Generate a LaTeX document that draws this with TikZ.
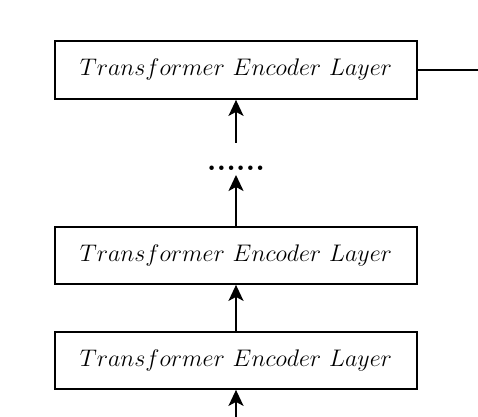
\documentclass[tikz,border=0pt]{standalone}
\usepackage{amsmath,amssymb}
\usepackage{tikz}
\usetikzlibrary{arrows.meta}

\begin{document}
\begin{tikzpicture}[x=1pt,y=1pt,>={Stealth[length=8pt,width=7.5pt,inset=2pt]},line width=1pt,
  layerbox/.style={draw,line width=0.9pt,minimum width=181pt,minimum height=28.5pt,inner sep=0pt,font=\fontsize{12.2}{14}\selectfont}]
\useasboundingbox (0,0) rectangle (239,208.5);
\node[layerbox] (layerA) at (118,28.25) {$Transformer\ Encoder\ Layer$};
\node[layerbox] (layerB) at (118,80.75) {$Transformer\ Encoder\ Layer$};
\node[layerbox,minimum height=29pt] (layerTop) at (118,173.5) {$Transformer\ Encoder\ Layer$};
\node[anchor=base,inner sep=0pt,font=\fontsize{15.5}{18}\selectfont\bfseries] (dots) at (118,123) {......};
\coordinate (input) at (118,0);
\coordinate (dotsIn) at (118,121);
\coordinate (dotsOut) at (118,137);
\coordinate (output) at (239,173.5);
\draw[->] (input) -- (layerA.south);
\draw[->] (layerA.north) -- (layerB.south);
\draw[->] (layerB.north) -- (dotsIn);
\draw[->] (dotsOut) -- (layerTop.south);
\draw (layerTop.east) -- (output);
\end{tikzpicture}
\end{document}
